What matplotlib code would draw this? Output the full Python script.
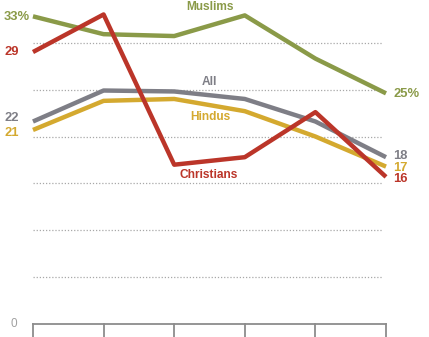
import matplotlib
matplotlib.use("Agg")
import matplotlib.pyplot as plt
import numpy as np

# valeurs (6 points)
points = [0, 1, 2, 3, 4, 5]
muslims = [32.8, 30.9, 30.7, 32.9, 28.3, 24.6]
christians = [29.0, 33.0, 17.0, 17.8, 22.6, 15.7]
all_groups = [21.6, 24.9, 24.8, 24.0, 21.6, 17.8]
hindus = [20.7, 23.8, 24.0, 22.7, 20.0, 16.8]
gridlines = [5, 10, 15, 20, 25, 30]

c_mus = "#8a9a48"
c_chr = "#bb3529"
c_all = "#7e7e86"
c_hin = "#d4a92f"

plt.rcParams["font.family"] = ["Liberation Sans", "DejaVu Sans"]

fig = plt.figure(figsize=(4.29, 3.37), dpi=100)
ax = fig.add_axes([0, 0, 1, 1])
ax.set_xlim(-0.467, 5.609)
ax.set_ylim(-1.35, 34.54)
ax.axis("off")

for g in gridlines:
    ax.plot([0, 4.96], [g, g], color="#a8a8a8", lw=0.9, ls=(0, (1, 1.5)), zorder=1)

# axe horizontal et graduations
ax.plot([0, 5], [0, 0], color="#8c8c8c", lw=1.3, zorder=2)
for p in points:
    ax.plot([p, p], [0, -1.35], color="#8c8c8c", lw=1.3, zorder=2)
ax.text(-0.27, 0, "0", color="#a0a0a0", fontsize=8.5, ha="center", va="center")

lw = 3.2
ax.plot(points, muslims, color=c_mus, lw=lw, zorder=3, solid_capstyle="butt")
ax.plot(points, all_groups, color=c_all, lw=lw, zorder=4, solid_capstyle="butt")
ax.plot(points, hindus, color=c_hin, lw=lw, zorder=3, solid_capstyle="butt")
ax.plot(points, christians, color=c_chr, lw=lw, zorder=5, solid_capstyle="butt")

kw = dict(fontsize=8.6, fontweight="bold", va="center")
kn = dict(fontsize=9.4, fontweight="bold", va="center")
# étiquettes de début
ax.text(-0.41, 32.76, "33%", color=c_mus, ha="left", **kn)
ax.text(-0.41, 29.03, "29", color=c_chr, ha="left", **kn)
ax.text(-0.41, 21.94, "22", color=c_all, ha="left", **kn)
ax.text(-0.41, 20.34, "21", color=c_hin, ha="left", **kn)
# étiquettes de fin
ax.text(5.1, 24.53, "25%", color=c_mus, ha="left", **kn)
ax.text(5.1, 17.92, "18", color=c_all, ha="left", **kn)
ax.text(5.1, 16.61, "17", color=c_hin, ha="left", **kn)
ax.text(5.1, 15.44, "16", color=c_chr, ha="left", **kn)
# noms des séries
ax.text(2.514, 33.79, "Muslims", color=c_mus, ha="center", **kw)
ax.text(2.493, 25.77, "All", color=c_all, ha="center", **kw)
ax.text(2.507, 22.11, "Hindus", color=c_hin, ha="center", **kw)
ax.text(2.493, 15.9, "Christians", color=c_chr, ha="center", **kw)

plt.savefig("out.png", dpi=100)
